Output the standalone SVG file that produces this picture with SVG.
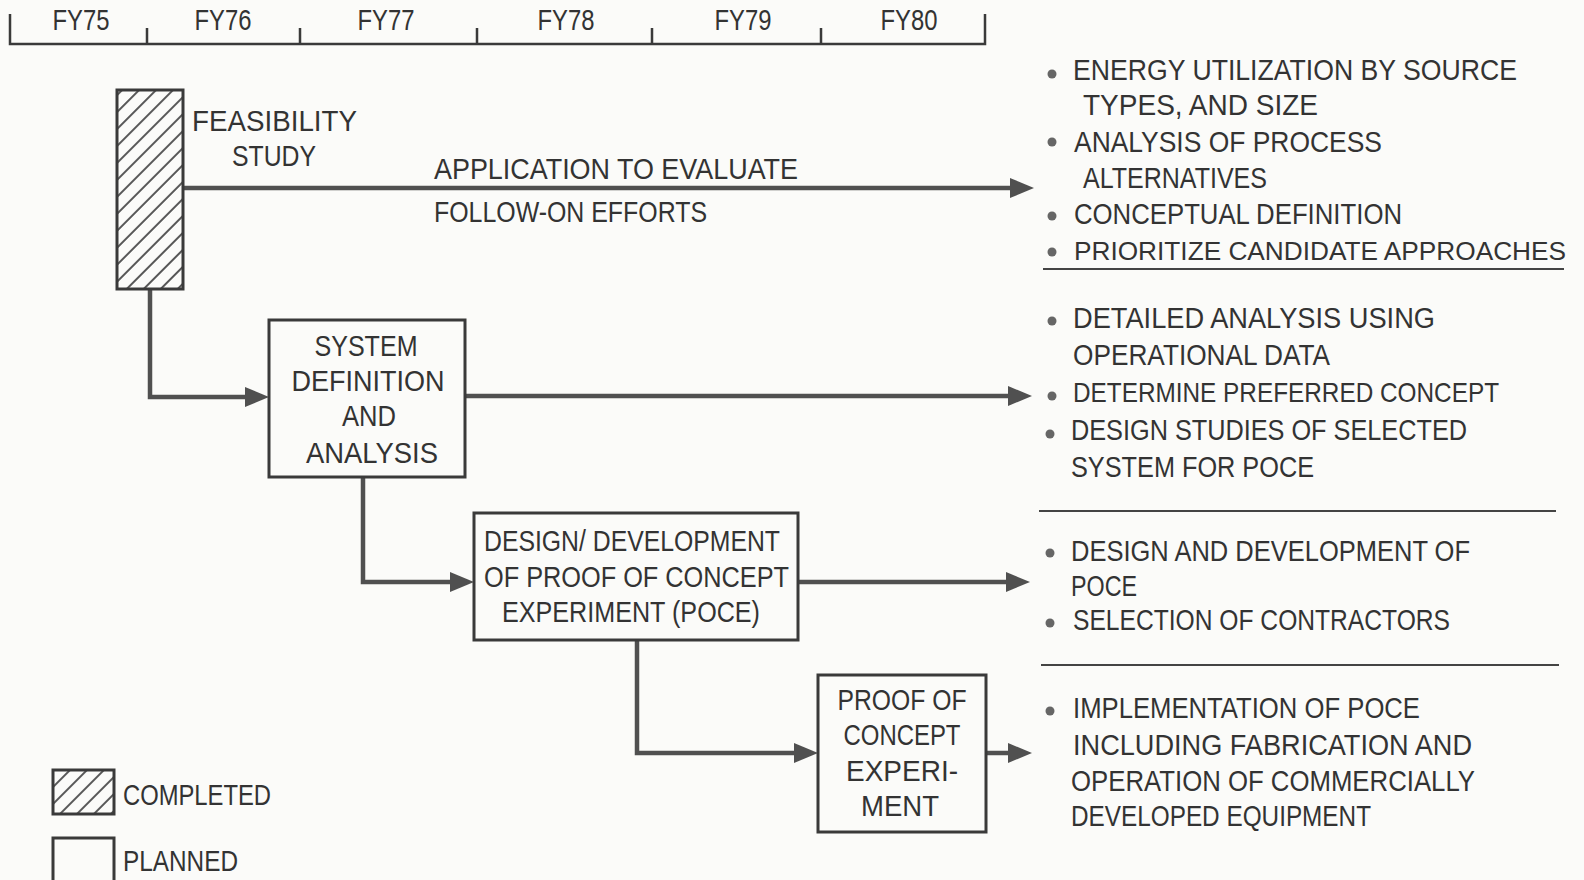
<svg xmlns="http://www.w3.org/2000/svg" width="1584" height="880" viewBox="0 0 1584 880">
<defs>
<style>
.t{font-family:"Liberation Sans","DejaVu Sans",sans-serif;font-size:30px;fill:#333;}
.s{font-size:27px;}
.m{text-anchor:middle;}
.box{fill:none;stroke:#3a3a3a;stroke-width:3;}
.conn{fill:none;stroke:#505050;stroke-width:4.5;}
.axis{fill:none;stroke:#3a3a3a;stroke-width:2.5;}
.sep{stroke:#444;stroke-width:2;}
.dot{fill:#666;}
</style>
<pattern id="hatch" patternUnits="userSpaceOnUse" width="12" height="12" patternTransform="rotate(-45)">
<rect width="12" height="12" fill="#fbfbf9"/>
<line x1="0" y1="6" x2="12" y2="6" stroke="#444" stroke-width="1.8"/>
</pattern>
<marker id="arr" viewBox="0 0 24 20" refX="14" refY="10" markerWidth="24" markerHeight="20" markerUnits="userSpaceOnUse" orient="auto">
<path d="M0,0 L24,10 L0,20 z" fill="#505050"/>
</marker>
</defs>
<rect width="1584" height="880" fill="#fbfbf9"/>

<g id="timeline">
<path class="axis" d="M10,14 V44 H985 V14"/>
<path class="axis" d="M147,28 V44 M300,28 V44 M477,28 V44 M652,28 V44 M821,28 V44"/>
<text class="t m" x="81" y="30" textLength="57" lengthAdjust="spacingAndGlyphs">FY75</text>
<text class="t m" x="223" y="30" textLength="57" lengthAdjust="spacingAndGlyphs">FY76</text>
<text class="t m" x="386" y="30" textLength="57" lengthAdjust="spacingAndGlyphs">FY77</text>
<text class="t m" x="566" y="30" textLength="57" lengthAdjust="spacingAndGlyphs">FY78</text>
<text class="t m" x="743" y="30" textLength="57" lengthAdjust="spacingAndGlyphs">FY79</text>
<text class="t m" x="909" y="30" textLength="57" lengthAdjust="spacingAndGlyphs">FY80</text>
</g>

<g id="connectors">
<path class="conn" d="M183,188 H1024" marker-end="url(#arr)"/>
<path class="conn" d="M150,289 V397 H259" marker-end="url(#arr)"/>
<path class="conn" d="M465,396 H1022" marker-end="url(#arr)"/>
<path class="conn" d="M363,477 V582 H464" marker-end="url(#arr)"/>
<path class="conn" d="M798,582 H1020" marker-end="url(#arr)"/>
<path class="conn" d="M637,640 V753 H808" marker-end="url(#arr)"/>
<path class="conn" d="M986,753 H1022" marker-end="url(#arr)"/>
</g>

<g id="feasibility">
<rect class="box" x="117" y="90" width="66" height="199" style="fill:url(#hatch)"/>
<text class="t" x="192" y="131" textLength="165" lengthAdjust="spacingAndGlyphs">FEASIBILITY</text>
<text class="t" x="232" y="166" textLength="84" lengthAdjust="spacingAndGlyphs">STUDY</text>
</g>

<g id="application-label">
<text class="t" x="434" y="179" textLength="364" lengthAdjust="spacingAndGlyphs">APPLICATION TO EVALUATE</text>
<text class="t" x="434" y="222" textLength="273" lengthAdjust="spacingAndGlyphs">FOLLOW-ON EFFORTS</text>
</g>

<g id="system-definition">
<rect class="box" x="269" y="320" width="196" height="157" fill="#fbfbf9"/>
<text class="t m" x="366" y="356" textLength="103" lengthAdjust="spacingAndGlyphs">SYSTEM</text>
<text class="t m" x="368" y="391" textLength="153" lengthAdjust="spacingAndGlyphs">DEFINITION</text>
<text class="t m" x="369" y="426" textLength="54" lengthAdjust="spacingAndGlyphs">AND</text>
<text class="t m" x="372" y="463" textLength="132" lengthAdjust="spacingAndGlyphs">ANALYSIS</text>
</g>

<g id="design-development">
<rect class="box" x="474" y="513" width="324" height="127" fill="#fbfbf9"/>
<text class="t" x="484" y="551" textLength="296" lengthAdjust="spacingAndGlyphs">DESIGN/ DEVELOPMENT</text>
<text class="t" x="484" y="587" textLength="305" lengthAdjust="spacingAndGlyphs">OF PROOF OF CONCEPT</text>
<text class="t" x="502" y="622" textLength="258" lengthAdjust="spacingAndGlyphs">EXPERIMENT (POCE)</text>
</g>

<g id="proof-of-concept">
<rect class="box" x="818" y="675" width="168" height="157" fill="#fbfbf9"/>
<text class="t m" x="902" y="710" textLength="129" lengthAdjust="spacingAndGlyphs">PROOF OF</text>
<text class="t m" x="902" y="745" textLength="117" lengthAdjust="spacingAndGlyphs">CONCEPT</text>
<text class="t m" x="902" y="781" textLength="112" lengthAdjust="spacingAndGlyphs">EXPERI-</text>
<text class="t m" x="900" y="816" textLength="78" lengthAdjust="spacingAndGlyphs">MENT</text>
</g>

<g id="outcomes-feasibility">
<circle class="dot" cx="1052" cy="74" r="4.5"/>
<text class="t" x="1073" y="80" textLength="444" lengthAdjust="spacingAndGlyphs">ENERGY UTILIZATION BY SOURCE</text>
<text class="t" x="1083" y="115" textLength="235" lengthAdjust="spacingAndGlyphs">TYPES, AND SIZE</text>
<circle class="dot" cx="1052" cy="142" r="4.5"/>
<text class="t" x="1074" y="152" textLength="308" lengthAdjust="spacingAndGlyphs">ANALYSIS OF PROCESS</text>
<text class="t" x="1083" y="188" textLength="184" lengthAdjust="spacingAndGlyphs">ALTERNATIVES</text>
<circle class="dot" cx="1052" cy="216" r="4.5"/>
<text class="t" x="1074" y="224" textLength="328" lengthAdjust="spacingAndGlyphs">CONCEPTUAL DEFINITION</text>
<circle class="dot" cx="1052" cy="252" r="4.5"/>
<text class="t" x="1074" y="260" style="font-size:26px" textLength="492" lengthAdjust="spacingAndGlyphs">PRIORITIZE CANDIDATE APPROACHES</text>
<line class="sep" x1="1043" y1="269" x2="1564" y2="269"/>
</g>

<g id="outcomes-system">
<circle class="dot" cx="1052" cy="321" r="4.5"/>
<text class="t" x="1073" y="328" textLength="362" lengthAdjust="spacingAndGlyphs">DETAILED ANALYSIS USING</text>
<text class="t" x="1073" y="365" textLength="257" lengthAdjust="spacingAndGlyphs">OPERATIONAL DATA</text>
<circle class="dot" cx="1052" cy="396" r="4.5"/>
<text class="t" x="1073" y="402" style="font-size:28px" textLength="426" lengthAdjust="spacingAndGlyphs">DETERMINE PREFERRED CONCEPT</text>
<circle class="dot" cx="1050" cy="434" r="4.5"/>
<text class="t" x="1071" y="440" textLength="396" lengthAdjust="spacingAndGlyphs">DESIGN STUDIES OF SELECTED</text>
<text class="t" x="1071" y="477" textLength="243" lengthAdjust="spacingAndGlyphs">SYSTEM FOR POCE</text>
<line class="sep" x1="1039" y1="511" x2="1556" y2="511"/>
</g>

<g id="outcomes-design">
<circle class="dot" cx="1050" cy="553" r="4.5"/>
<text class="t" x="1071" y="561" textLength="399" lengthAdjust="spacingAndGlyphs">DESIGN AND DEVELOPMENT OF</text>
<text class="t" x="1071" y="596" textLength="66" lengthAdjust="spacingAndGlyphs">POCE</text>
<circle class="dot" cx="1050" cy="623" r="4.5"/>
<text class="t" x="1073" y="630" textLength="377" lengthAdjust="spacingAndGlyphs">SELECTION OF CONTRACTORS</text>
<line class="sep" x1="1041" y1="665" x2="1559" y2="665"/>
</g>

<g id="outcomes-poce">
<circle class="dot" cx="1050" cy="711" r="4.5"/>
<text class="t" x="1073" y="718" textLength="347" lengthAdjust="spacingAndGlyphs">IMPLEMENTATION OF POCE</text>
<text class="t" x="1073" y="755" textLength="399" lengthAdjust="spacingAndGlyphs">INCLUDING FABRICATION AND</text>
<text class="t" x="1071" y="791" textLength="404" lengthAdjust="spacingAndGlyphs">OPERATION OF COMMERCIALLY</text>
<text class="t" x="1071" y="826" textLength="300" lengthAdjust="spacingAndGlyphs">DEVELOPED EQUIPMENT</text>
</g>

<g id="legend">
<rect class="box" x="53" y="770" width="61" height="44" style="fill:url(#hatch)"/>
<text class="t" x="123" y="805" textLength="148" lengthAdjust="spacingAndGlyphs">COMPLETED</text>
<path class="box" d="M53,880 V838 H114 V880"/>
<text class="t" x="123" y="871" textLength="115" lengthAdjust="spacingAndGlyphs">PLANNED</text>
</g>
</svg>
